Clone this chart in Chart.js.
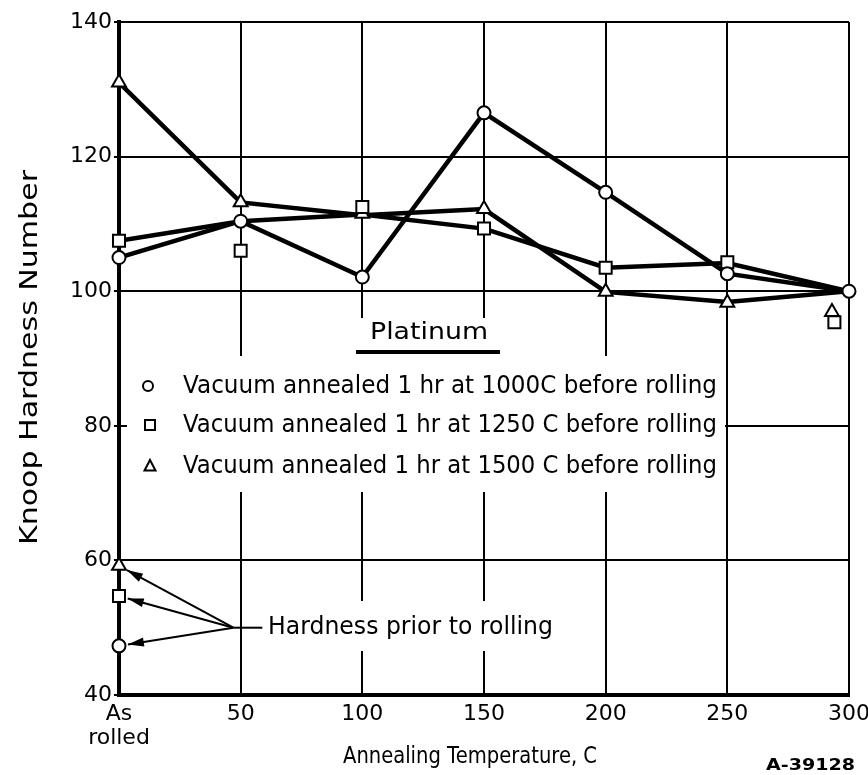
<!DOCTYPE html>
<html>
<head>
<meta charset="utf-8">
<script src="https://cdn.jsdelivr.net/npm/chart.js@4.4.1/dist/chart.umd.min.js"></script>
<style>
html, body { margin: 0; padding: 0; background: #fff; }
</style>
</head>
<body>
<canvas id="myChart" width="868" height="775"></canvas>
<script>
// 어닐링 온도 (0 = As rolled)
const temps = [0, 50, 100, 150, 200, 250, 300];

// 1000C 시료: 점과 선이 같은 값
const hv1000 = [105, 110.4, 102.1, 126.5, 114.7, 102.6, 100];

// 1250C / 1500C 시료: 측정점
const temps1250 = [0, 50, 100, 150, 200, 250, 294];
const hv1250 = [107.5, 106, 112.5, 109.3, 103.5, 104.3, 95.4];
const temps1500 = [0, 50, 100, 150, 200, 250, 293];
const hv1500 = [131, 113.2, 111.5, 112.2, 99.9, 98.3, 96.9];

// 1250C / 1500C 시료: 그려진 추세선
const line1250 = [107.5, 110.4, 111.4, 109.3, 103.5, 104.2, 100];
const line1500 = [131, 113.2, 111.3, 112.2, 99.9, 98.4, 100];

// 압연 전 경도 (1000C, 1250C, 1500C)
const priorHv = [47.3, 54.7, 59.2];
const priorStyles = ['circle', 'rect', 'triangle'];
const priorRadius = [6.5, 8.5, 8];

const yMin = 40, yMax = 140, yStep = 20;
const xMin = 0, xMax = 300, xStep = 50;

const legendLabels = [
    'Vacuum annealed 1 hr at 1000C before rolling',
    'Vacuum annealed 1 hr at 1250 C before rolling',
    'Vacuum annealed 1 hr at 1500 C before rolling'
];

const FONT = '"DejaVu Sans", sans-serif';

const xy = (xs, ys) => xs.map((x, i) => ({ x: x, y: ys[i] }));

// 글자를 지정 폭에 맞춰 가로로 늘려 그리기
function fitText(ctx, text, x, y, w, font) {
    ctx.save();
    ctx.font = font;
    const m = ctx.measureText(text).width;
    ctx.translate(x, y);
    ctx.scale(w / m, 1);
    ctx.textAlign = 'left';
    ctx.textBaseline = 'middle';
    ctx.fillStyle = '#000';
    ctx.fillText(text, 0, 0);
    ctx.restore();
}

function arrow(ctx, x0, y0, x1, y1, gap) {
    const a = Math.atan2(y1 - y0, x1 - x0);
    const ex = x1 - Math.cos(a) * gap, ey = y1 - Math.sin(a) * gap;
    ctx.beginPath();
    ctx.moveTo(x0, y0);
    ctx.lineTo(ex, ey);
    ctx.stroke();
    ctx.save();
    ctx.translate(ex, ey);
    ctx.rotate(a);
    ctx.beginPath();
    ctx.moveTo(0, 0);
    ctx.lineTo(-16, -4.5);
    ctx.lineTo(-16, 4.5);
    ctx.closePath();
    ctx.fill();
    ctx.restore();
}

// 범례, 제목, 주석
const notesPlugin = {
    id: 'notes',
    beforeDatasetsDraw(chart) {
        const ctx = chart.ctx;
        ctx.save();
        // 격자를 가리는 흰 바탕
        ctx.fillStyle = '#fff';
        ctx.fillRect(127, 356, 598, 136);
        ctx.fillRect(345, 318, 165, 40);
        ctx.fillRect(264, 601, 294, 50);

        fitText(ctx, 'Platinum', 370, 333, 118, '23px ' + FONT);
        ctx.fillStyle = '#000';
        ctx.fillRect(356, 350, 144, 4);

        const rows = [386, 425, 466];
        legendLabels.forEach((t, i) => fitText(ctx, t, 183, rows[i], 534, '25px ' + FONT));

        ctx.strokeStyle = '#000';
        ctx.lineWidth = 2;
        ctx.beginPath();
        ctx.arc(148, rows[0], 5, 0, Math.PI * 2);
        ctx.stroke();
        ctx.strokeRect(145, rows[1] - 5, 10, 10);
        ctx.beginPath();
        ctx.moveTo(150, rows[2] - 6);
        ctx.lineTo(155.5, rows[2] + 4.5);
        ctx.lineTo(144.5, rows[2] + 4.5);
        ctx.closePath();
        ctx.stroke();

        fitText(ctx, 'Hardness prior to rolling', 268, 627, 285, '25px ' + FONT);
        fitText(ctx, 'Annealing Temperature, C', 343, 757, 254, '23px ' + FONT);
        fitText(ctx, 'A-39128', 766, 766, 89, 'bold 15px ' + FONT);

        ctx.save();
        ctx.translate(30, 358);
        ctx.rotate(-Math.PI / 2);
        fitText(ctx, 'Knoop Hardness Number', -187, 0, 375, '25px ' + FONT);
        ctx.restore();
        ctx.restore();
    },
    afterDatasetsDraw(chart) {
        const ctx = chart.ctx;
        const xs = chart.scales.x, ys = chart.scales.y;
        const jx = xs.getPixelForValue(47), jy = ys.getPixelForValue(50);
        ctx.save();
        ctx.strokeStyle = '#000';
        ctx.fillStyle = '#000';
        ctx.lineWidth = 2;
        ctx.beginPath();
        ctx.moveTo(jx, jy);
        ctx.lineTo(jx + 29, jy);
        ctx.stroke();
        priorHv.forEach(v => {
            arrow(ctx, jx, jy, xs.getPixelForValue(0), ys.getPixelForValue(v), 9);
        });
        ctx.restore();
    }
};

const lineDs = (data) => ({
    data: data,
    borderColor: '#000',
    borderWidth: 4.5,
    pointRadius: 0,
    showLine: true,
    tension: 0,
    order: 2
});

const markDs = (data, style, r) => ({
    data: data,
    pointStyle: style,
    pointRadius: r,
    pointBorderWidth: 2,
    pointBorderColor: '#000',
    pointBackgroundColor: '#fff',
    showLine: false,
    clip: false,
    order: 1
});

const ctx = document.getElementById('myChart').getContext('2d');

const chart = new Chart(ctx, {
    type: 'scatter',
    data: {
        datasets: [
            lineDs(xy(temps, hv1000)),
            lineDs(xy(temps, line1250)),
            lineDs(xy(temps, line1500)),
            markDs(xy(temps, hv1000), 'circle', 6.5),
            markDs(xy(temps1250, hv1250), 'rect', 8.5),
            markDs(xy(temps1500, hv1500), 'triangle', 8),
            ...priorHv.map((v, i) => markDs([{ x: 0, y: v }], priorStyles[i], priorRadius[i]))
        ]
    },
    options: {
        responsive: false,
        animation: false,
        layout: { padding: { top: 22, right: 19, left: 0, bottom: 0 } },
        plugins: {
            legend: { display: false },
            tooltip: { enabled: false }
        },
        scales: {
            x: {
                type: 'linear',
                min: xMin,
                max: xMax,
                afterFit: (scale) => {
                    scale.height = 80;
                    scale.paddingLeft = 0;
                    scale.paddingRight = 0;
                },
                ticks: {
                    stepSize: xStep,
                    color: '#000',
                    padding: 7,
                    maxRotation: 0,
                    font: { family: FONT, size: 22, lineHeight: 1.1 },
                    callback: (v) => v === 0 ? ['As', 'rolled'] : v
                },
                grid: { color: '#000', lineWidth: 2, drawTicks: false },
                border: { color: '#000', width: 4 }
            },
            y: {
                min: yMin,
                max: yMax,
                afterFit: (scale) => {
                    scale.width = 119;
                    scale.paddingTop = 0;
                    scale.paddingBottom = 0;
                },
                ticks: {
                    stepSize: yStep,
                    color: '#000',
                    padding: 2,
                    font: { family: FONT, size: 22 }
                },
                grid: { color: '#000', lineWidth: 2, tickLength: 5 },
                border: { color: '#000', width: 4 }
            }
        }
    },
    plugins: [notesPlugin]
});
</script>
</body>
</html>
